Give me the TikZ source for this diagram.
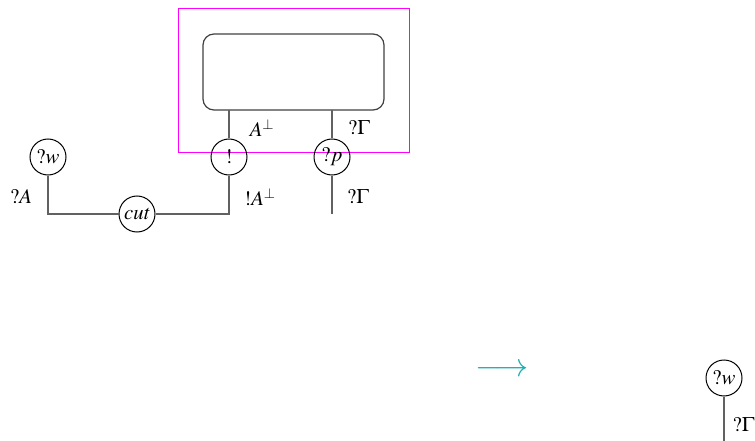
\documentclass[tikz,border=0pt]{standalone}
\usepackage{amsmath}
\usepackage{mathptmx}
\definecolor{boxmag}{RGB}{255,0,255}
\begin{document}
\begin{tikzpicture}[x=1pt,y=-1pt,
  cnode/.style={draw,circle,line width=1pt,minimum size=36pt,inner sep=0pt,font=\huge},
  wire/.style={draw=black!62,line width=1.3pt},
  lab/.style={font=\huge,inner sep=0pt}]
\useasboundingbox (0,0) rectangle (755,441);
\clip (0,0) rectangle (755,441);
\draw[boxmag,line width=1pt] (178.5,8.5) rectangle (409.5,152.5);
\node[draw=black!75,line width=1.2pt,rounded corners=11pt,minimum width=181pt,minimum height=76pt] (box) at (293.5,72) {};
\node[cnode] (bang) at (229,157) {$!$};
\node[cnode] (qp) at (332,157) {$?p$};
\node[cnode] (qw) at (48,157) {$?w$};
\node[cnode] (cut) at (137,214) {$\mathit{cut}$};
\node[cnode] (qw2) at (724,378) {$?w$};
\coordinate (b1) at (229,110);
\coordinate (b2) at (332,110);
\coordinate (e1) at (332,214);
\coordinate (c1) at (229,214);
\coordinate (c2) at (48,214);
\coordinate (e2) at (724,441);
\draw[wire] (b1) -- (bang.north);
\draw[wire] (b2) -- (qp.north);
\draw[wire] (qp.south) -- (e1);
\draw[wire] (bang.south) -- (c1) -- (cut.east);
\draw[wire] (qw.south) -- (c2) -- (cut.west);
\draw[wire] (qw2.south) -- (e2);
\node[lab] (l1) at (262,128) {$A^{\perp}$};
\node[lab] (l2) at (359,128) {$?\Gamma$};
\node[lab] (l3) at (260,197) {$!A^{\perp}$};
\node[lab] (l4) at (358,197) {$?\Gamma$};
\node[lab] (l5) at (21,197) {$?A$};
\node[lab] (l6) at (743.5,425) {$?\Gamma$};
\node[lab,scale=1.6,text={rgb,255:red,25;green,175;blue,175}] (arr) at (502,370) {$\longrightarrow$};
\end{tikzpicture}
\end{document}
